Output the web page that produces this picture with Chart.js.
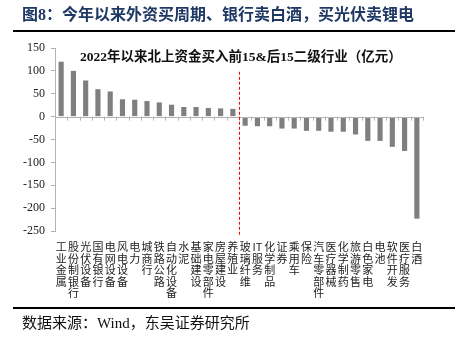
<!DOCTYPE html>
<html lang="zh">
<head>
<meta charset="UTF-8">
<title>北上资金二级行业</title>
<script src="https://cdn.jsdelivr.net/npm/chart.js"></script>
<style>
    body { margin: 0; background: #fff; }
    .page { position: relative; width: 462px; height: 351px; overflow: hidden;
            font-family: "Liberation Serif", "Noto Sans CJK SC", serif; }
    .titulo { position: absolute; left: 22px; top: 5px; font-size: 16px; font-weight: bold;
              color: #1f3864; white-space: nowrap; line-height: 20px; }
    .linea { position: absolute; left: 13px; width: 442px; height: 2px; background: #000; }
    .subtitulo { position: absolute; left: 80px; top: 48px; font-size: 13.5px; font-weight: bold;
                 color: #111; white-space: nowrap; line-height: 18px; }
    .fuente { position: absolute; left: 22px; top: 314px; font-size: 15px; color: #111;
              white-space: nowrap; line-height: 18px; }
    .grafico { position: absolute; left: 0; top: 0; width: 462px; height: 351px; }
</style>
</head>
<body>
<div class="page">
    <div class="grafico"><canvas id="chart" width="462" height="351"></canvas></div>
    <div class="titulo">图8：今年以来外资买周期、银行卖白酒，买光伏卖锂电</div>
    <div class="linea" style="top:30px"></div>
    <div class="subtitulo">2022年以来北上资金买入前15&amp;后15二级行业（亿元）</div>
    <div class="linea" style="top:307px"></div>
    <div class="fuente">数据来源：Wind，东吴证券研究所</div>
</div>

<script>
    // datos (亿元)
    const categorias = [
        "工业金属", "股份制银行", "光伏设备", "国有银行", "电网设备", "风电设备", "电力", "城商行",
        "铁路公路", "自动化设备", "水泥", "基础建设", "家电零部件", "房屋建设", "养殖业",
        "玻璃纤维", "IT服务", "化学制品", "证券", "乘用车", "保险", "汽车零部件", "医疗器械",
        "化学制药", "旅游零售", "白色家电", "电池", "软件开发", "医疗服务", "白酒"
    ];
    const valores = [
        120, 100, 79, 60, 55, 38, 37, 34, 31, 26, 21, 21, 19, 18, 17,
        -20, -21, -21, -26, -26, -31, -31, -33, -33, -39, -53, -53, -66, -75, -223
    ];
    const ticksY = [150, 100, 50, 0, -50, -100, -150, -200, -250];
    const corte = 15;          // las primeras 15 son compras, el resto ventas
    const corteArriba = 98;    // donde empieza la linea roja (valor del eje)

    // linea del cero con sus marcas y la linea roja discontinua
    const lineasExtra = {
        id: 'lineasExtra',
        afterDatasetsDraw(chart) {
            const ctx = chart.ctx;
            const x = chart.scales.x, y = chart.scales.y;
            const area = chart.chartArea;
            const y0 = y.getPixelForValue(0);
            const paso = x.getPixelForValue(1) - x.getPixelForValue(0);
            ctx.save();
            ctx.strokeStyle = '#b3b3b3';
            ctx.lineWidth = 1;
            ctx.beginPath();
            ctx.moveTo(area.left, Math.round(y0) + 0.5);
            ctx.lineTo(area.right, Math.round(y0) + 0.5);
            for (let i = 0; i <= categorias.length; i++) {
                const px = Math.round(x.getPixelForValue(i) - paso / 2) + 0.5;
                ctx.moveTo(px, y0);
                ctx.lineTo(px, y0 + 4);
            }
            ctx.stroke();
            // linea roja
            const xr = Math.round((x.getPixelForValue(corte - 1) + x.getPixelForValue(corte)) / 2) + 0.5;
            ctx.strokeStyle = '#ff0000';
            ctx.setLineDash([3, 2]);
            ctx.beginPath();
            ctx.moveTo(xr, y.getPixelForValue(corteArriba));
            ctx.lineTo(xr, area.bottom + 5);
            ctx.stroke();
            ctx.restore();
        }
    };

    new Chart(document.getElementById('chart'), {
        type: 'bar',
        data: {
            labels: categorias,
            datasets: [{
                data: valores,
                backgroundColor: '#7f7f7f',
                barPercentage: 0.42,
                categoryPercentage: 1
            }]
        },
        options: {
            responsive: false,
            animation: false,
            devicePixelRatio: 1,
            layout: { padding: { top: 48, right: 39, left: 0, bottom: 0 } },
            plugins: { legend: { display: false }, tooltip: { enabled: false } },
            scales: {
                x: {
                    grid: { display: false },
                    border: { display: false },
                    afterFit(scale) { scale.height = 120; },
                    ticks: {
                        autoSkip: false,
                        maxRotation: 0,
                        minRotation: 0,
                        padding: 2,
                        color: '#222',
                        font: { family: '"Noto Sans CJK SC"', size: 11, lineHeight: 1.05 },
                        callback(v) {
                            return categorias[v].match(/[A-Za-z]+|./g);
                        }
                    }
                },
                y: {
                    min: -250,
                    max: 150,
                    afterFit(scale) { scale.width = 55; },
                    afterBuildTicks(scale) { scale.ticks = ticksY.map(v => ({ value: v })); },
                    grid: { drawOnChartArea: false, drawTicks: true, tickLength: 4, color: '#b3b3b3' },
                    border: { color: '#b3b3b3' },
                    ticks: {
                        padding: 6,
                        color: '#222',
                        font: { family: '"Liberation Serif"', size: 12 }
                    }
                }
            }
        },
        plugins: [lineasExtra]
    });
</script>
</body>
</html>
